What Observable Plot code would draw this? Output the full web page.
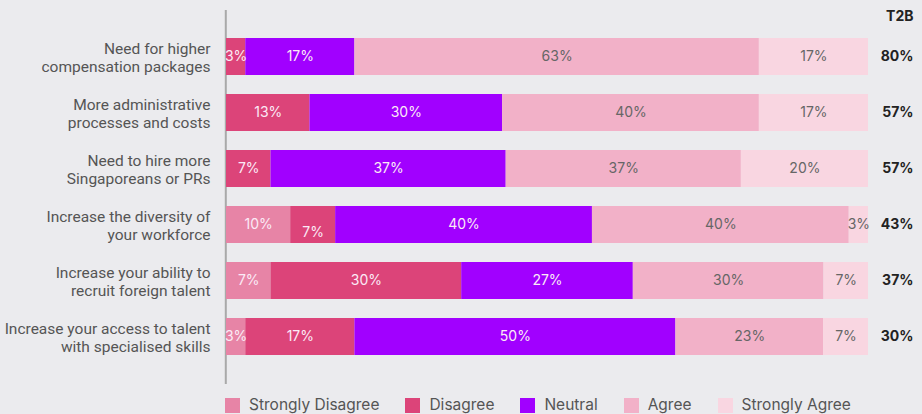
<!DOCTYPE html>
<html>
<head>
<meta charset="utf-8">
<script src="https://cdn.jsdelivr.net/npm/d3@7"></script>
<script src="https://cdn.jsdelivr.net/npm/@observablehq/plot@0.6"></script>
<style>
  html, body { margin: 0; padding: 0; background: #ebebee; }
  body { width: 922px; height: 414px; overflow: hidden; font-family: Inter, "Noto Sans", sans-serif; }
  #chart svg { display: block; }
  #legend { display: flex; align-items: center; height: 18px; line-height: 18px; margin-left: 225px; margin-top: 6px; font-size: 15.5px; color: #555; }
  #legend .item { display: flex; align-items: center; margin-right: 26px; }
  #legend .sw { width: 15px; height: 15px; margin-right: 9px; }
</style>
</head>
<body>
<div id="chart"></div>
<div id="legend"></div>
<script>
const categories = [
  "Need for higher compensation packages",
  "More administrative processes and costs",
  "Need to hire more Singaporeans or PRs",
  "Increase the diversity of your workforce",
  "Increase your ability to recruit foreign talent",
  "Increase your access to talent with specialised skills"
];
const tickLabels = [
  "Need for higher\ncompensation packages",
  "More administrative\nprocesses and costs",
  "Need to hire more\nSingaporeans or PRs",
  "Increase the diversity of\nyour workforce",
  "Increase your ability to\nrecruit foreign talent",
  "Increase your access to talent\nwith specialised skills"
];
const levels = ["Strongly Disagree", "Disagree", "Neutral", "Agree", "Strongly Agree"];
const levelColors = ["#e784a6", "#dc4479", "#a100ff", "#f2b1c8", "#f9d6e1"];
const stronglyDisagree = [0, 0, 0, 10, 7, 3];
const disagree = [3, 13, 7, 7, 30, 17];
const neutral = [17, 30, 37, 40, 27, 50];
const agree = [63, 40, 37, 40, 30, 23];
const stronglyAgree = [17, 17, 20, 3, 7, 7];
const t2b = [80, 57, 57, 43, 37, 30];

const series = [stronglyDisagree, disagree, neutral, agree, stronglyAgree];
const data = [];
categories.forEach((c, i) => {
  levels.forEach((l, j) => {
    if (series[j][i] > 0) data.push({category: c, level: l, value: series[j][i], row: i});
  });
});
const t2bData = categories.map((c, i) => ({category: c, value: t2b[i]}));
const labelMap = new Map(categories.map((c, i) => [c, tickLabels[i]]));
const darkLevels = new Set(["Strongly Disagree", "Disagree", "Neutral"]);
const isShifted = d => d.row === 3 && d.level === "Disagree";

const stackOpts = {x: "value", y: "category", z: "level", offset: "normalize", order: levels};

const chart = Plot.plot({
  width: 922,
  height: 390,
  marginLeft: 226,
  marginRight: 54,
  marginTop: 10,
  marginBottom: 6,
  style: {background: "transparent", fontFamily: "Inter, 'Noto Sans', sans-serif"},
  x: {domain: [0, 1], axis: null},
  y: {domain: categories, padding: 0.344, insetTop: 7.6, insetBottom: 8.6, label: null, axis: null},
  color: {domain: levels, range: levelColors},
  marks: [
    Plot.ruleX([0], {stroke: "#a9a9a9", strokeWidth: 2, dx: -0.7}),
    Plot.barX(data, Plot.stackX({...stackOpts, fill: "level"})),
    Plot.text(data, Plot.stackX({
      ...stackOpts,
      text: d => isShifted(d) ? null : d.value + "%",
      fill: d => darkLevels.has(d.level) ? "#fbeaf6" : "#666",
      fontSize: 14
    })),
    Plot.text(data, Plot.stackX({
      ...stackOpts,
      text: d => isShifted(d) ? d.value + "%" : null,
      fill: "#fbeaf6",
      fontSize: 14,
      dy: 8
    })),
    Plot.axisY({
      tickSize: 0,
      tickPadding: 16,
      fontSize: 15.5,
      fontFamily: "Roboto, sans-serif",
      lineHeight: 1.17,
      fill: "#555",
      tickFormat: d => labelMap.get(d),
      label: null
    }),
    Plot.text(t2bData, {
      x: () => 1,
      y: "category",
      text: d => d.value + "%",
      textAnchor: "end",
      dx: 45,
      fontSize: 14,
      fontWeight: 700,
      fill: "#222"
    }),
    Plot.text(["T2B"], {
      frameAnchor: "top-right",
      text: d => d,
      textAnchor: "end",
      lineAnchor: "top",
      dx: 45,
      dy: 1,
      fontSize: 14,
      fontWeight: 700,
      fill: "#222"
    })
  ]
});
document.getElementById("chart").appendChild(chart);

const legend = document.getElementById("legend");
levels.forEach((l, i) => {
  const item = document.createElement("div");
  item.className = "item";
  const sw = document.createElement("span");
  sw.className = "sw";
  sw.style.background = levelColors[i];
  const tx = document.createElement("span");
  tx.textContent = l;
  item.appendChild(sw);
  item.appendChild(tx);
  legend.appendChild(item);
});
</script>
</body>
</html>
